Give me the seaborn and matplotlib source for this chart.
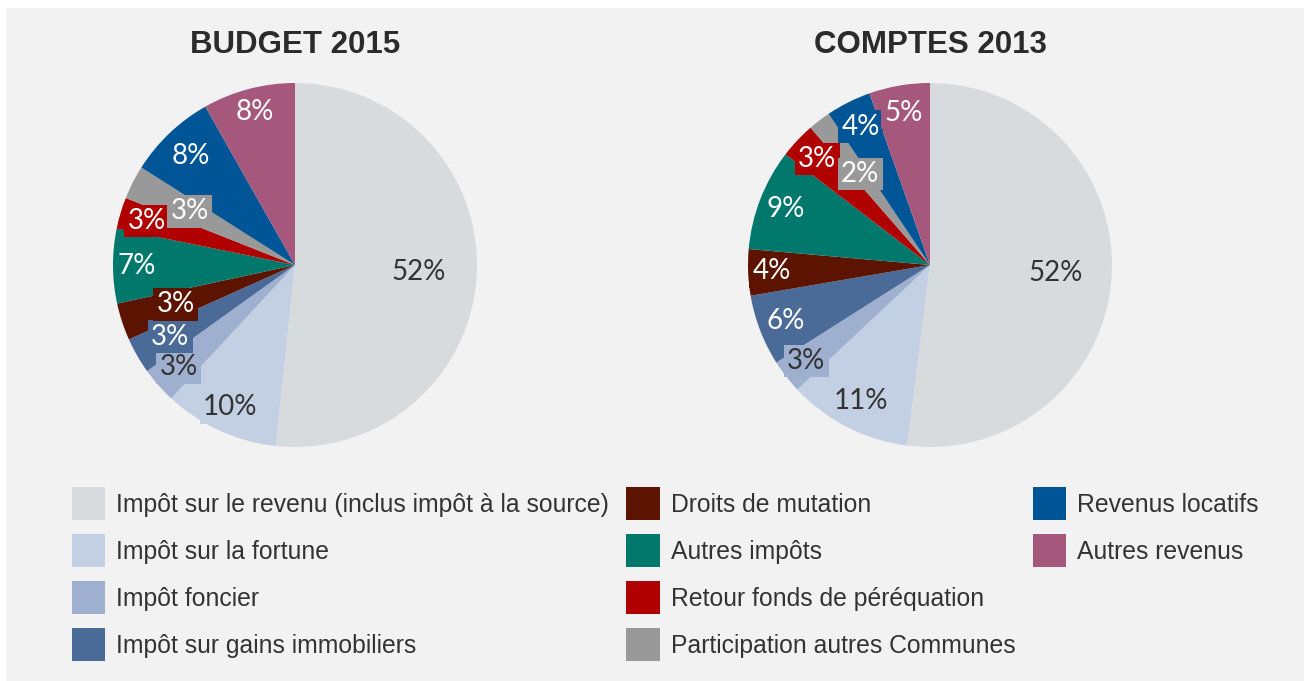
import numpy as np
import matplotlib
matplotlib.use("Agg")
import matplotlib.pyplot as plt
import matplotlib.patches as mpatches
import seaborn as sns

# ---- data -----------------------------------------------------------------
categories = [
    "Impôt sur le revenu (inclus impôt à la source)",
    "Impôt sur la fortune",
    "Impôt foncier",
    "Impôt sur gains immobiliers",
    "Droits de mutation",
    "Autres impôts",
    "Retour fonds de péréquation",
    "Participation autres Communes",
    "Revenus locatifs",
    "Autres revenus",
]
budget_2015 = [51.7, 10.2, 3.2, 3.2, 3.3, 6.6, 2.8, 3.0, 7.8, 8.2]
comptes_2013 = [52.0, 11.0, 3.0, 6.3, 4.1, 9.0, 3.2, 2.0, 4.0, 5.4]
titles = ["BUDGET 2015", "COMPTES 2013"]

# ---- style ----------------------------------------------------------------
colors = ["#d8dbde", "#c3cfe2", "#9eafcf", "#4a6a98", "#5c1400",
          "#00786c", "#b00000", "#999999", "#005596", "#a6587c"]
label_colors = ["#333333", "#333333", "#333333"] + ["white"] * 7
label_radius = {
    "BUDGET 2015": [0.68, 0.86, 0.85, 0.79, 0.69, 0.87, 0.85, 0.65, 0.83, 0.87],
    "COMPTES 2013": [0.69, 0.84, 0.86, 0.85, 0.87, 0.85, 0.85, 0.63, 0.85, 0.85],
}
BG = "#f2f2f2"

sns.set_theme(style="white")
plt.rcParams["font.family"] = ["Liberation Sans", "DejaVu Sans"]

W, H = 1304, 681
fig = plt.figure(figsize=(W / 100, H / 100), dpi=100, facecolor="white")
fig.patches.append(mpatches.Rectangle((6 / W, 0), 1, 1 - 8 / H, transform=fig.transFigure,
                                      facecolor=BG, edgecolor="none", zorder=-10))

R = 182
centers = [(295, 265), (930, 265)]

for (cx, cy), title, values in zip(centers, titles, [budget_2015, comptes_2013]):
    ax = fig.add_axes([(cx - R) / W, (H - cy - R) / H, 2 * R / W, 2 * R / H])
    ax.set_facecolor("none")
    wedges, texts, autotexts = ax.pie(
        values, colors=colors, startangle=90, counterclock=False,
        autopct="%1.0f%%", wedgeprops=dict(linewidth=0),
        textprops=dict(family=["Lato", "DejaVu Sans"], fontsize=20),
    )
    ax.set_xlim(-1, 1)
    ax.set_ylim(-1, 1)
    ax.set_aspect("equal")
    for w, t, col, tc, r in zip(wedges, autotexts, colors, label_colors, label_radius[title]):
        mid = np.deg2rad((w.theta1 + w.theta2) / 2)
        t.set_position((r * np.cos(mid), r * np.sin(mid)))
        t.set_color(tc)
        t.set_bbox(dict(boxstyle="square,pad=0.12", facecolor=col, edgecolor="none"))
    fig.text(cx / W, 1 - 45 / H, title, ha="center", va="center",
             family=["Liberation Sans", "DejaVu Sans"], fontweight="bold",
             fontsize=22.5, color="#2b2b2b")

# ---- legend ---------------------------------------------------------------
handles = [mpatches.Patch(facecolor=c, edgecolor="none", label=l)
           for c, l in zip(colors, categories)]
handles += [mpatches.Patch(facecolor="none", edgecolor="none", label="")] * 2
fig.legend(handles=handles, ncol=3, loc="upper left",
           bbox_to_anchor=(72 / W, 1 - 487 / H), frameon=False,
           fontsize=17.8, handlelength=1.34, handleheight=1.68,
           handletextpad=0.45, labelspacing=0.57, columnspacing=0.7,
           borderpad=0, borderaxespad=0, labelcolor="#333333")

fig.savefig("out.png", dpi=100, facecolor=fig.get_facecolor())
